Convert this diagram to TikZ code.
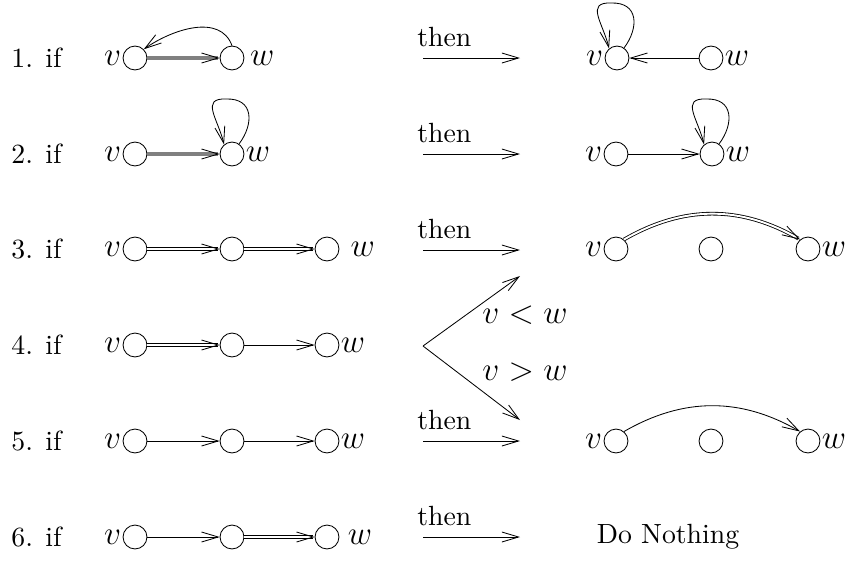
\documentclass[tikz,border=0pt]{standalone}
\usetikzlibrary{arrows.meta}
\tikzset{
    vtx/.style={circle,draw,minimum size=8.6pt,inner sep=0pt,label distance=0pt},
    sgl/.style={-{Straight Barb[length=6pt,width=3.6pt]}},
    dbl/.style={double,double distance=0.7pt,-{Straight Barb[length=6pt,width=3.6pt]}},
    thk/.style={draw=gray,line width=1.4pt,-{Straight Barb[length=6pt,width=3.6pt,color=black,line width=0.3pt]}},
    rowlbl/.style={anchor=west,inner sep=0pt},
    thenlbl/.style={anchor=south west,inner sep=0pt,xshift=-2.2pt,yshift=4pt},
    mathlbl/.style={font=\fontsize{11.5pt}{13pt}\selectfont},
    every label/.style={inner sep=0.4pt,mathlbl},
}
\begin{document}
\begin{tikzpicture}[x=0.36pt,y=0.36pt,line width=0.3pt]
    \useasboundingbox (0,0) rectangle (849,-561);

    %row labels
    \node[rowlbl] (r1) at (11,-58) {1. if};
    \node[rowlbl] (r2) at (11,-154) {2. if};
    \node[rowlbl] (r3) at (11,-249) {3. if};
    \node[rowlbl] (r4) at (11,-345) {4. if};
    \node[rowlbl] (r5) at (11,-441) {5. if};
    \node[rowlbl] (r6) at (11,-537) {6. if};

    %row 1
    \node[vtx,label=left:$v$] (a1v) at (135,-58) {};
    \node[vtx,label={[label distance=1.5pt]right:$w$}] (a1w) at (232,-58) {};
    \draw[thk] (a1v) -- (a1w);
    \draw[sgl] (a1w.north) to[out=110,in=35] (a1v.north east);
    \node[vtx,label=left:$v$] (b1v) at (617,-58) {};
    \node[vtx,label=right:$w$] (b1w) at (711,-58) {};
    \draw[sgl] (b1w) -- (b1v);
    \draw[sgl] (b1v.55) .. controls (639,-28) and (639,-2) .. (611,-3) .. controls (585,-2) and (603,-23) .. (b1v.130);

    %row 2
    \node[vtx,label=left:$v$] (a2v) at (135,-154) {};
    \node[vtx,label=right:$w$] (a2w) at (232,-154) {};
    \draw[thk] (a2v) -- (a2w);
    \draw[sgl] (a2w.55) .. controls (254,-124) and (254,-98) .. (226,-99) .. controls (200,-98) and (218,-119) .. (a2w.130);
    \node[vtx,label=left:$v$] (b2v) at (616,-154) {};
    \node[vtx,label=right:$w$] (b2w) at (712,-154) {};
    \draw[sgl] (b2v) -- (b2w);
    \draw[sgl] (b2w.55) .. controls (734,-124) and (734,-98) .. (706,-99) .. controls (680,-98) and (698,-119) .. (b2w.130);

    %row 3
    \node[vtx,label=left:$v$] (a3v) at (135,-249) {};
    \node[vtx] (a3m) at (232,-249) {};
    \node[vtx,label={[label distance=3.5pt]right:$w$}] (a3w) at (327,-249) {};
    \draw[dbl] (a3v) -- (a3m);
    \draw[dbl] (a3m) -- (a3w);
    \node[vtx,label=left:$v$] (b3v) at (616,-249) {};
    \node[vtx] (b3m) at (711,-249) {};
    \node[vtx,label=right:$w$] (b3w) at (808,-249) {};
    \draw[dbl] (b3v.50) to[bend left=30] (b3w.130);

    %row 4
    \node[vtx,label=left:$v$] (a4v) at (135,-345) {};
    \node[vtx] (a4m) at (232,-345) {};
    \node[vtx,label=right:$w$] (a4w) at (327,-345) {};
    \draw[dbl] (a4v) -- (a4m);
    \draw[sgl] (a4m) -- (a4w);

    %row 5
    \node[vtx,label=left:$v$] (a5v) at (135,-441) {};
    \node[vtx] (a5m) at (232,-441) {};
    \node[vtx,label=right:$w$] (a5w) at (327,-441) {};
    \draw[sgl] (a5v) -- (a5m);
    \draw[sgl] (a5m) -- (a5w);
    \node[vtx,label=left:$v$] (b5v) at (616,-441) {};
    \node[vtx] (b5m) at (711,-441) {};
    \node[vtx,label=right:$w$] (b5w) at (808,-441) {};
    \draw[sgl] (b5v.50) to[bend left=30] (b5w.130);

    %row 6
    \node[vtx,label=left:$v$] (a6v) at (135,-537) {};
    \node[vtx] (a6m) at (232,-537) {};
    \node[vtx,label={[label distance=2.5pt]right:$w$}] (a6w) at (327,-537) {};
    \draw[sgl] (a6v) -- (a6m);
    \draw[dbl] (a6m) -- (a6w);
    \node (nothing) at (668,-537) {Do Nothing};

    %then arrows
    \coordinate (t1a) at (423,-58);  \coordinate (t1b) at (520,-58);
    \coordinate (t2a) at (423,-154); \coordinate (t2b) at (520,-154);
    \coordinate (t3a) at (423,-250); \coordinate (t3b) at (520,-250);
    \coordinate (t5a) at (423,-441); \coordinate (t5b) at (520,-441);
    \coordinate (t6a) at (423,-537); \coordinate (t6b) at (520,-537);
    \draw[sgl] (t1a) -- (t1b) node[pos=0,thenlbl] {then};
    \draw[sgl] (t2a) -- (t2b) node[pos=0,thenlbl] {then};
    \draw[sgl] (t3a) -- (t3b) node[pos=0,thenlbl] {then};
    \draw[sgl] (t5a) -- (t5b) node[pos=0,thenlbl] {then};
    \draw[sgl] (t6a) -- (t6b) node[pos=0,thenlbl] {then};

    %branch for row 4
    \coordinate (br) at (423,-346);
    \coordinate (bru) at (520,-276);
    \coordinate (brd) at (520,-420);
    \draw[sgl] (br) -- (bru);
    \draw[sgl] (br) -- (brd);
    \node[anchor=west,inner sep=0pt,mathlbl] (lt) at (482,-315) {$v<w$};
    \node[anchor=west,inner sep=0pt,mathlbl] (gt) at (482,-372) {$v>w$};

\end{tikzpicture}
\end{document}
